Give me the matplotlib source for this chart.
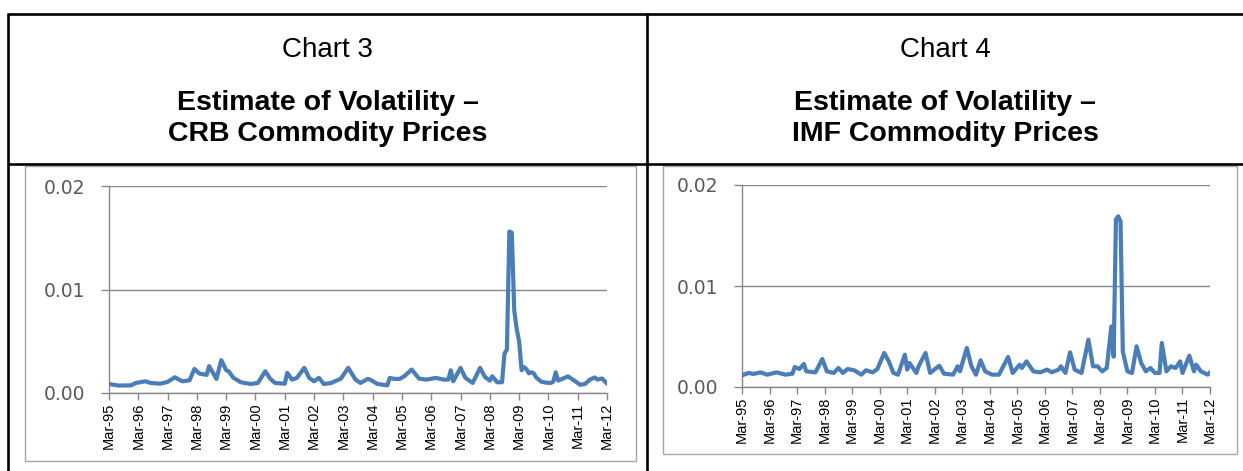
import matplotlib
matplotlib.use('Agg')
import matplotlib.pyplot as plt
from matplotlib.patches import Rectangle
from matplotlib.lines import Line2D

# ---------------- data ----------------
# x = months since Mar-1995, y = volatility estimate
tick_labels = ['Mar-95', 'Mar-96', 'Mar-97', 'Mar-98', 'Mar-99', 'Mar-00', 'Mar-01',
               'Mar-02', 'Mar-03', 'Mar-04', 'Mar-05', 'Mar-06', 'Mar-07', 'Mar-08',
               'Mar-09', 'Mar-10', 'Mar-11', 'Mar-12']
y_ticks = [0.0, 0.01, 0.02]
y_tick_labels = ['0.00', '0.01', '0.02']

crb_months = [0, 4, 9, 11, 15, 17, 21, 24, 27, 30, 33, 35, 37, 40, 41, 43, 44, 46, 48, 49,
              51, 54, 58, 61, 64, 66, 68, 72, 73, 75, 77, 80, 82, 84, 86, 88, 91, 95, 98,
              101, 103, 106, 107, 110, 114, 115, 117, 119, 121, 124, 127, 130, 134, 137,
              139, 140, 141, 144, 146, 149, 152, 154, 156, 157, 159, 161, 162, 163, 164,
              165, 166, 167, 168, 169, 170, 171, 172, 173, 174, 175, 177, 179, 181, 182,
              183, 184, 186, 188, 190, 192, 193, 195, 197, 199, 200, 202, 204]
crb_values = [0.00087, 0.00072, 0.00074, 0.00097, 0.00113, 0.00097, 0.00090, 0.00107,
              0.00152, 0.00113, 0.00123, 0.00233, 0.00188, 0.00175, 0.00260, 0.00178,
              0.00136, 0.00317, 0.00220, 0.00210, 0.00146, 0.00104, 0.00087, 0.00097,
              0.00210, 0.00139, 0.00097, 0.00090, 0.00194, 0.00129, 0.00146, 0.00243,
              0.00146, 0.00113, 0.00146, 0.00087, 0.00097, 0.00139, 0.00243, 0.00129,
              0.00097, 0.00136, 0.00129, 0.00087, 0.00074, 0.00146, 0.00136, 0.00136,
              0.00162, 0.00227, 0.00139, 0.00129, 0.00146, 0.00129, 0.00129, 0.00220,
              0.00113, 0.00243, 0.00146, 0.00097, 0.00243, 0.00155, 0.00120, 0.00162,
              0.00104, 0.00104, 0.00380, 0.00420, 0.01560, 0.01550, 0.00800, 0.00620,
              0.00500, 0.00220, 0.00250, 0.00230, 0.00190, 0.00200, 0.00190, 0.00150,
              0.00110, 0.00100, 0.00097, 0.00110, 0.00200, 0.00120, 0.00140, 0.00160,
              0.00130, 0.00097, 0.00080, 0.00087, 0.00130, 0.00150, 0.00130, 0.00140,
              0.00090]

imf_months = [0, 3, 5, 8, 11, 15, 19, 22, 23, 25, 27, 28, 32, 35, 37, 40, 42, 44, 46, 49,
              52, 54, 57, 59, 62, 64, 66, 68, 71, 72, 73, 76, 77, 80, 82, 86, 88, 92, 94,
              95, 98, 100, 102, 104, 106, 109, 112, 116, 118, 121, 122, 124, 127, 130, 133,
              135, 138, 139, 141, 143, 145, 148, 151, 153, 155, 157, 159, 161, 162, 163,
              164, 165, 166, 168, 170, 172, 174, 176, 178, 180, 182, 183, 185, 187, 189,
              191, 192, 195, 197, 198, 200, 203, 204]
imf_values = [0.00116, 0.00139, 0.00129, 0.00145, 0.00122, 0.00145, 0.00122, 0.00132,
              0.00198, 0.00178, 0.00228, 0.00155, 0.00145, 0.00277, 0.00155, 0.00139,
              0.00188, 0.00139, 0.00178, 0.00165, 0.00122, 0.00165, 0.00145, 0.00178,
              0.00337, 0.00254, 0.00139, 0.00122, 0.00320, 0.00172, 0.00238, 0.00139,
              0.00205, 0.00337, 0.00139, 0.00211, 0.00132, 0.00122, 0.00205, 0.00155,
              0.00386, 0.00205, 0.00122, 0.00264, 0.00155, 0.00122, 0.00122, 0.00297,
              0.00139, 0.00221, 0.00188, 0.00254, 0.00155, 0.00145, 0.00172, 0.00145,
              0.00172, 0.00205, 0.00139, 0.00343, 0.00172, 0.00139, 0.00469, 0.00205,
              0.00205, 0.00155, 0.00188, 0.00600, 0.00300, 0.01660, 0.01690, 0.01640,
              0.00350, 0.00155, 0.00139, 0.00403, 0.00238, 0.00155, 0.00188, 0.00139,
              0.00139, 0.00436, 0.00155, 0.00205, 0.00188, 0.00254, 0.00139, 0.00310,
              0.00155, 0.00221, 0.00155, 0.00122, 0.00145]

chart_numbers = ['Chart 3', 'Chart 4']
chart_titles = ['Estimate of Volatility –\nCRB Commodity Prices',
                'Estimate of Volatility –\nIMF Commodity Prices']

# ---------------- layout ----------------
W, H = 1243, 471
fig = plt.figure(figsize=(W / 100, H / 100), dpi=100)


def fx(x):
    return x / W


def fy(y):
    return 1 - y / H


LINE_COLOR = '#4a7ebb'
GRID_COLOR = '#888888'
TITLE_FONT = ['Liberation Sans', 'DejaVu Sans']

# table borders
tlw = 1.9
for (x0, y0, x1, y1) in [(8, 14, W, 14), (8, 164, W, 164), (8, 13, 8, H), (647, 13, 647, H)]:
    fig.add_artist(Line2D([fx(x0), fx(x1)], [fy(y0), fy(y1)], color='black', lw=tlw,
                          transform=fig.transFigure, solid_capstyle='butt'))

# titles
for cx, num, title in zip([327.5, 945], chart_numbers, chart_titles):
    fig.text(fx(cx), fy(57), num, ha='center', va='baseline', fontsize=20,
             family=TITLE_FONT)
    l1, l2 = title.split('\n')
    fig.text(fx(cx), fy(110), l1, ha='center', va='baseline', fontsize=20.5,
             family=TITLE_FONT, weight='bold')
    fig.text(fx(cx), fy(141), l2, ha='center', va='baseline', fontsize=20.5,
             family=TITLE_FONT, weight='bold')

# inner chart boxes
for (x0, y0, x1, y1) in [(25, 166, 636, 461), (663, 166, 1237, 454)]:
    fig.add_artist(Rectangle((fx(x0), fy(y1)), (x1 - x0) / W, (y1 - y0) / H, fill=False,
                             ec='#a6a6a6', lw=1.0, transform=fig.transFigure))

panels = [
    ((109, 607, 186, 393), crb_months, crb_values),
    ((742, 1210, 185, 387), imf_months, imf_values),
]

for (x0, x1, ytop, ybot), months, values in panels:
    ax = fig.add_axes([fx(x0), fy(ybot), (x1 - x0) / W, (ybot - ytop) / H])
    ax.plot(months, values, color=LINE_COLOR, lw=3.0, solid_joinstyle='round',
            solid_capstyle='round', zorder=3)
    ax.set_xlim(0, 12 * (len(tick_labels) - 1))
    ax.set_ylim(0, 0.02)
    ax.set_xticks([12 * i for i in range(len(tick_labels))])
    ax.set_xticklabels(tick_labels, rotation=90, family=TITLE_FONT, fontsize=10.5,
                       color='black')
    ax.set_yticks(y_ticks)
    ax.set_yticklabels(y_tick_labels, family=['DejaVu Sans'], fontsize=13.5,
                       color='#595959')
    ax.grid(axis='y', color=GRID_COLOR, lw=1.0, zorder=1)
    ax.set_axisbelow(True)
    for s in ['top', 'right']:
        ax.spines[s].set_visible(False)
    for s in ['left', 'bottom']:
        ax.spines[s].set_color(GRID_COLOR)
        ax.spines[s].set_linewidth(1.0)
    ax.tick_params(axis='x', length=5, width=1, color=GRID_COLOR, pad=2)
    ax.tick_params(axis='y', length=6, width=1, color=GRID_COLOR, pad=11)
    ax.patch.set_alpha(0)

fig.savefig('out.png', dpi=100, facecolor='white')
